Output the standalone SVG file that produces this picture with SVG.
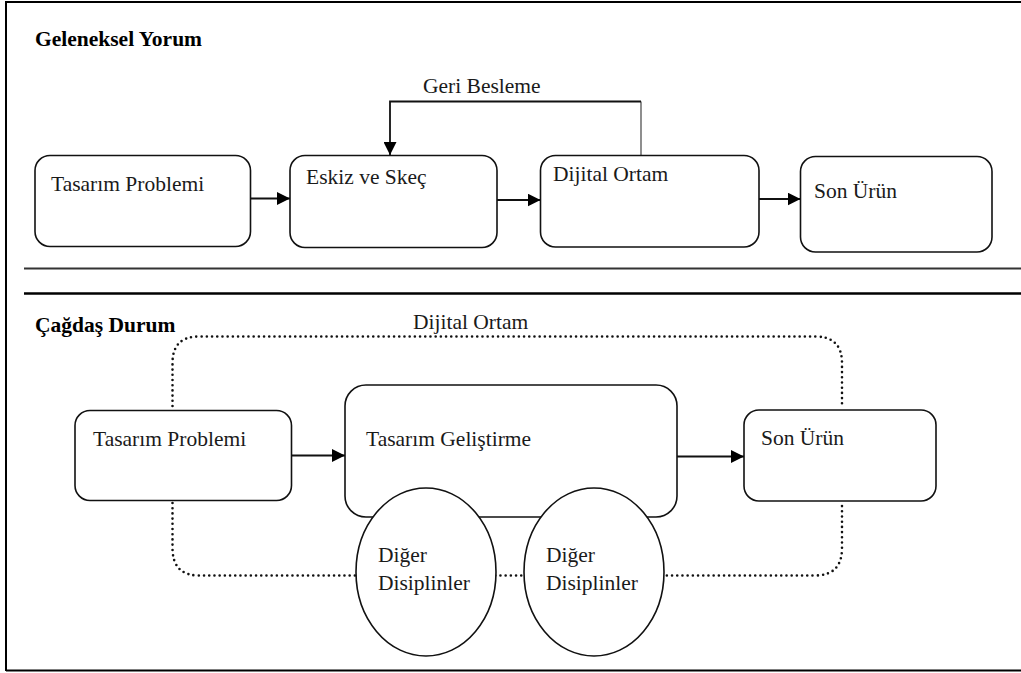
<svg xmlns="http://www.w3.org/2000/svg" width="1021" height="673" viewBox="0 0 1021 673">
<style>
text{font-size:21.5px;fill:#1a1a1a}
.b{font-weight:bold;fill:#000}
.box{fill:#fff;stroke:#111;stroke-width:1.6}
.ln{fill:none;stroke:#111;stroke-width:1.8}
.dot{fill:none;stroke:#111;stroke-width:2.6;stroke-linecap:round;stroke-dasharray:0 5.2}
</style>
<defs>
<marker id="ah" markerWidth="13" markerHeight="13" refX="13" refY="6.5" orient="auto" markerUnits="userSpaceOnUse"><path d="M0,0 L13,6.5 L0,13 z" fill="#000"/></marker>
</defs>
<g id="frame" fill="none" stroke="#000">
<path d="M6,2 H1021" stroke-width="2.2"/>
<path d="M6,1 V671" stroke-width="2"/>
<path d="M6,670.5 H1021" stroke-width="2.2"/>
<path d="M24,268.5 H1021" stroke="#333" stroke-width="2.2"/>
<path d="M24,293.5 H1021" stroke-width="2.4"/>
</g>
<g font-family="'Liberation Serif', 'Times New Roman', Tinos, 'DejaVu Serif', serif">
<text class="b" x="35" y="46">Geleneksel Yorum</text>
<text class="b" x="35" y="332">Çağdaş Durum</text>
<g id="connectors">
<path class="ln" d="M250,198.5 H290" marker-end="url(#ah)"/>
<path class="ln" d="M497,200 H540.5" marker-end="url(#ah)"/>
<path class="ln" d="M759,199 H800.5" marker-end="url(#ah)"/>
<path d="M641,156 V101.5" fill="none" stroke="#444" stroke-width="1.2"/>
<path class="ln" d="M641,101.5 H390 V155" marker-end="url(#ah)"/>
<path class="ln" d="M291,455.5 H345" marker-end="url(#ah)"/>
<path class="ln" d="M677,456.5 H744" marker-end="url(#ah)"/>
<path class="dot" d="M172.5,406 V363 Q172.5,336.5 199,336.5 H815 Q842,336.5 842,363 V407"/>
<path class="dot" d="M172.5,503 V548 Q172.5,575.5 199,575.5 H815 Q842,575.5 842,548 V503"/>
</g>
<text x="423" y="93">Geri Besleme</text>
<text x="413" y="329">Dijital Ortam</text>
<g id="t1"><rect class="box" x="35" y="155.5" width="215.5" height="91" rx="15"/><text x="51" y="191">Tasarım Problemi</text></g>
<g id="t2"><rect class="box" x="290" y="155.5" width="207" height="92" rx="15"/><text x="306" y="184">Eskiz ve Skeç</text></g>
<g id="t3"><rect class="box" x="540.5" y="155.5" width="218.5" height="91.5" rx="15"/><text x="553" y="181">Dijital Ortam</text></g>
<g id="t4"><rect class="box" x="800.5" y="156.5" width="191.5" height="95.5" rx="15"/><text x="814" y="198">Son Ürün</text></g>
<g id="b1"><rect class="box" x="75" y="410.5" width="216.5" height="90" rx="15"/><text x="93" y="446">Tasarım Problemi</text></g>
<g id="b2"><rect class="box" x="345" y="385" width="332" height="132" rx="21"/><text x="366" y="446">Tasarım Geliştirme</text></g>
<g id="b3"><rect class="box" x="744" y="410" width="192" height="91" rx="15"/><text x="761" y="445">Son Ürün</text></g>
<g id="e1"><ellipse class="box" cx="426" cy="572" rx="70" ry="84"/><text x="378" y="562">Diğer</text><text x="378" y="590">Disiplinler</text></g>
<g id="e2"><ellipse class="box" cx="594" cy="572" rx="70" ry="84"/><text x="546" y="562">Diğer</text><text x="546" y="590">Disiplinler</text></g>
</g>
</svg>
